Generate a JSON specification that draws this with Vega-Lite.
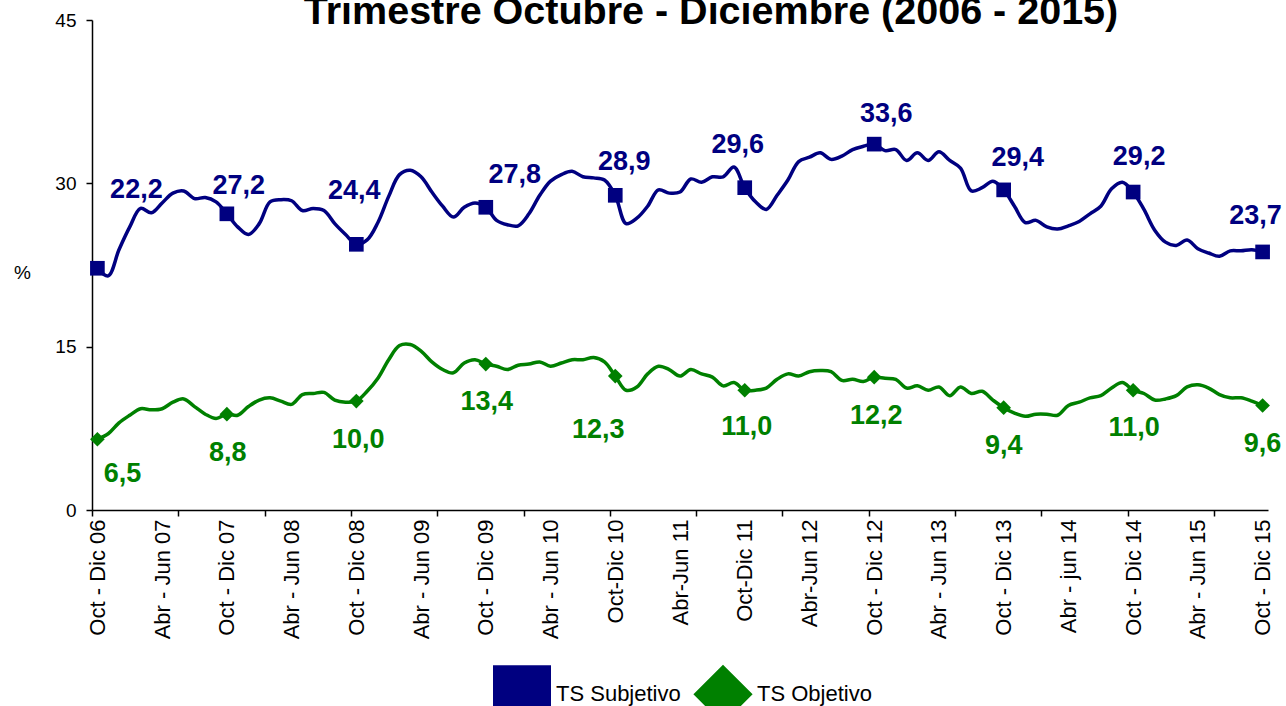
{
  "$schema": "https://vega.github.io/schema/vega-lite/v6.json",
  "width": 1176,
  "height": 490,
  "autosize": {"type": "none"},
  "padding": {"left": 92, "top": 20, "right": 18, "bottom": 196},
  "background": "white",
  "title": {"text": "Trimestre Octubre - Diciembre (2006 - 2015)", "font": "Liberation Sans", "fontSize": 39.5, "fontWeight": "bold", "color": "black", "anchor": "middle", "frame": "group", "dx": 31, "dy": 36, "offset": -16, "baseline": "alphabetic"},
  "config": {
    "view": {"stroke": null},
    "axis": {"grid": false, "domainColor": "black", "tickColor": "black", "labelColor": "black", "labelFont": "Liberation Sans", "titleFont": "Liberation Sans", "titleColor": "black", "domainWidth": 1.5, "tickWidth": 1.5}
  },
  "data": {"values": [
    {"t":0,"TS Subjetivo":22.2,"TS Objetivo":6.5},
    {"t":1,"TS Subjetivo":21.5,"TS Objetivo":7.0},
    {"t":2,"TS Subjetivo":23.9,"TS Objetivo":8.0},
    {"t":3,"TS Subjetivo":26.0,"TS Objetivo":8.7},
    {"t":4,"TS Subjetivo":27.7,"TS Objetivo":9.3},
    {"t":5,"TS Subjetivo":27.3,"TS Objetivo":9.2},
    {"t":6,"TS Subjetivo":28.2,"TS Objetivo":9.3},
    {"t":7,"TS Subjetivo":29.1,"TS Objetivo":9.9},
    {"t":8,"TS Subjetivo":29.3,"TS Objetivo":10.2},
    {"t":9,"TS Subjetivo":28.6,"TS Objetivo":9.5},
    {"t":10,"TS Subjetivo":28.7,"TS Objetivo":8.8},
    {"t":11,"TS Subjetivo":28.3,"TS Objetivo":8.4},
    {"t":12,"TS Subjetivo":27.2,"TS Objetivo":8.8},
    {"t":13,"TS Subjetivo":26.0,"TS Objetivo":8.7},
    {"t":14,"TS Subjetivo":25.3,"TS Objetivo":9.5},
    {"t":15,"TS Subjetivo":26.3,"TS Objetivo":10.1},
    {"t":16,"TS Subjetivo":28.3,"TS Objetivo":10.3},
    {"t":17,"TS Subjetivo":28.5,"TS Objetivo":10.0},
    {"t":18,"TS Subjetivo":28.4,"TS Objetivo":9.7},
    {"t":19,"TS Subjetivo":27.5,"TS Objetivo":10.6},
    {"t":20,"TS Subjetivo":27.7,"TS Objetivo":10.7},
    {"t":21,"TS Subjetivo":27.5,"TS Objetivo":10.8},
    {"t":22,"TS Subjetivo":26.3,"TS Objetivo":10.1},
    {"t":23,"TS Subjetivo":25.3,"TS Objetivo":9.9},
    {"t":24,"TS Subjetivo":24.4,"TS Objetivo":10.0},
    {"t":25,"TS Subjetivo":24.8,"TS Objetivo":10.9},
    {"t":26,"TS Subjetivo":26.4,"TS Objetivo":12.1},
    {"t":27,"TS Subjetivo":28.8,"TS Objetivo":13.8},
    {"t":28,"TS Subjetivo":30.8,"TS Objetivo":15.1},
    {"t":29,"TS Subjetivo":31.2,"TS Objetivo":15.2},
    {"t":30,"TS Subjetivo":30.6,"TS Objetivo":14.6},
    {"t":31,"TS Subjetivo":29.2,"TS Objetivo":13.6},
    {"t":32,"TS Subjetivo":27.9,"TS Objetivo":12.9},
    {"t":33,"TS Subjetivo":26.9,"TS Objetivo":12.6},
    {"t":34,"TS Subjetivo":27.8,"TS Objetivo":13.5},
    {"t":35,"TS Subjetivo":28.2,"TS Objetivo":13.8},
    {"t":36,"TS Subjetivo":27.8,"TS Objetivo":13.4},
    {"t":37,"TS Subjetivo":26.6,"TS Objetivo":13.2},
    {"t":38,"TS Subjetivo":26.2,"TS Objetivo":12.9},
    {"t":39,"TS Subjetivo":26.1,"TS Objetivo":13.3},
    {"t":40,"TS Subjetivo":27.2,"TS Objetivo":13.4},
    {"t":41,"TS Subjetivo":28.9,"TS Objetivo":13.6},
    {"t":42,"TS Subjetivo":30.2,"TS Objetivo":13.2},
    {"t":43,"TS Subjetivo":30.8,"TS Objetivo":13.5},
    {"t":44,"TS Subjetivo":31.1,"TS Objetivo":13.8},
    {"t":45,"TS Subjetivo":30.6,"TS Objetivo":13.8},
    {"t":46,"TS Subjetivo":30.5,"TS Objetivo":14.0},
    {"t":47,"TS Subjetivo":30.3,"TS Objetivo":13.6},
    {"t":48,"TS Subjetivo":28.9,"TS Objetivo":12.3},
    {"t":49,"TS Subjetivo":26.3,"TS Objetivo":11.0},
    {"t":50,"TS Subjetivo":26.8,"TS Objetivo":11.3},
    {"t":51,"TS Subjetivo":27.9,"TS Objetivo":12.5},
    {"t":52,"TS Subjetivo":29.4,"TS Objetivo":13.2},
    {"t":53,"TS Subjetivo":29.1,"TS Objetivo":12.9},
    {"t":54,"TS Subjetivo":29.2,"TS Objetivo":12.3},
    {"t":55,"TS Subjetivo":30.4,"TS Objetivo":12.9},
    {"t":56,"TS Subjetivo":30.1,"TS Objetivo":12.5},
    {"t":57,"TS Subjetivo":30.6,"TS Objetivo":12.2},
    {"t":58,"TS Subjetivo":30.6,"TS Objetivo":11.4},
    {"t":59,"TS Subjetivo":31.5,"TS Objetivo":11.7},
    {"t":60,"TS Subjetivo":29.6,"TS Objetivo":11.0},
    {"t":61,"TS Subjetivo":28.3,"TS Objetivo":11.0},
    {"t":62,"TS Subjetivo":27.6,"TS Objetivo":11.2},
    {"t":63,"TS Subjetivo":28.9,"TS Objetivo":12.0},
    {"t":64,"TS Subjetivo":30.3,"TS Objetivo":12.5},
    {"t":65,"TS Subjetivo":32.0,"TS Objetivo":12.3},
    {"t":66,"TS Subjetivo":32.4,"TS Objetivo":12.7},
    {"t":67,"TS Subjetivo":32.8,"TS Objetivo":12.8},
    {"t":68,"TS Subjetivo":32.2,"TS Objetivo":12.7},
    {"t":69,"TS Subjetivo":32.5,"TS Objetivo":11.9},
    {"t":70,"TS Subjetivo":33.1,"TS Objetivo":12.0},
    {"t":71,"TS Subjetivo":33.4,"TS Objetivo":11.8},
    {"t":72,"TS Subjetivo":33.6,"TS Objetivo":12.2},
    {"t":73,"TS Subjetivo":33.0,"TS Objetivo":12.1},
    {"t":74,"TS Subjetivo":33.1,"TS Objetivo":12.0},
    {"t":75,"TS Subjetivo":32.1,"TS Objetivo":11.2},
    {"t":76,"TS Subjetivo":32.8,"TS Objetivo":11.4},
    {"t":77,"TS Subjetivo":32.1,"TS Objetivo":11.0},
    {"t":78,"TS Subjetivo":32.9,"TS Objetivo":11.3},
    {"t":79,"TS Subjetivo":32.1,"TS Objetivo":10.5},
    {"t":80,"TS Subjetivo":31.4,"TS Objetivo":11.3},
    {"t":81,"TS Subjetivo":29.3,"TS Objetivo":10.7},
    {"t":82,"TS Subjetivo":29.6,"TS Objetivo":10.9},
    {"t":83,"TS Subjetivo":30.2,"TS Objetivo":10.1},
    {"t":84,"TS Subjetivo":29.4,"TS Objetivo":9.4},
    {"t":85,"TS Subjetivo":27.9,"TS Objetivo":8.9},
    {"t":86,"TS Subjetivo":26.4,"TS Objetivo":8.6},
    {"t":87,"TS Subjetivo":26.6,"TS Objetivo":8.8},
    {"t":88,"TS Subjetivo":26.0,"TS Objetivo":8.8},
    {"t":89,"TS Subjetivo":25.8,"TS Objetivo":8.7},
    {"t":90,"TS Subjetivo":26.1,"TS Objetivo":9.6},
    {"t":91,"TS Subjetivo":26.5,"TS Objetivo":9.9},
    {"t":92,"TS Subjetivo":27.2,"TS Objetivo":10.3},
    {"t":93,"TS Subjetivo":27.9,"TS Objetivo":10.5},
    {"t":94,"TS Subjetivo":29.5,"TS Objetivo":11.2},
    {"t":95,"TS Subjetivo":30.1,"TS Objetivo":11.7},
    {"t":96,"TS Subjetivo":29.2,"TS Objetivo":11.0},
    {"t":97,"TS Subjetivo":27.6,"TS Objetivo":10.7},
    {"t":98,"TS Subjetivo":25.7,"TS Objetivo":10.1},
    {"t":99,"TS Subjetivo":24.6,"TS Objetivo":10.2},
    {"t":100,"TS Subjetivo":24.3,"TS Objetivo":10.5},
    {"t":101,"TS Subjetivo":24.8,"TS Objetivo":11.3},
    {"t":102,"TS Subjetivo":24.0,"TS Objetivo":11.5},
    {"t":103,"TS Subjetivo":23.6,"TS Objetivo":11.2},
    {"t":104,"TS Subjetivo":23.3,"TS Objetivo":10.6},
    {"t":105,"TS Subjetivo":23.8,"TS Objetivo":10.3},
    {"t":106,"TS Subjetivo":23.8,"TS Objetivo":10.3},
    {"t":107,"TS Subjetivo":23.9,"TS Objetivo":10.0},
    {"t":108,"TS Subjetivo":23.7,"TS Objetivo":9.6}
  ]},
  "transform": [
    {"fold": ["TS Subjetivo", "TS Objetivo"], "as": ["serie", "valor"]},
    {"calculate": "replace(format(datum.valor, '.1f'), '.', ',')", "as": "lab"}
  ],
  "resolve": {"axis": {"x": "independent"}},
  "layer": [
    {
      "mark": {"type": "line", "interpolate": "catmull-rom", "strokeWidth": 3.5},
      "encoding": {
        "x": {"field": "t", "type": "quantitative", "scale": {"domain": [-0.5, 108.5], "nice": false, "zero": false},
          "axis": {"orient": "bottom", "values": [0,6,12,18,24,30,36,42,48,54,60,66,72,78,84,90,96,102,108],
            "labelExpr": "['Oct - Dic 06','Abr - Jun 07','Oct - Dic 07','Abr - Jun 08','Oct - Dic 08','Abr - Jun 09','Oct - Dic 09','Abr - Jun 10','Oct-Dic 10','Abr-Jun 11','Oct-Dic 11','Abr-Jun 12','Oct - Dic 12','Abr - Jun 13','Oct - Dic 13','Abr - jun 14','Oct - Dic 14','Abr - Jun 15','Oct - Dic 15'][round(datum.value / 6)]",
            "labelAngle": -90, "labelFontSize": 22, "labelPadding": 9, "ticks": false, "tickSize": 0, "title": null, "labelOverlap": false, "labelBound": false, "labelFlush": false}},
        "y": {"field": "valor", "type": "quantitative", "scale": {"domain": [0, 45], "nice": false, "zero": true},
          "axis": {"values": [0, 15, 30, 45], "tickSize": 6, "labelFontSize": 19, "labelPadding": 10, "title": "%", "titleAngle": 0, "titleFontSize": 19, "titleFontWeight": "normal", "titleX": -70, "titleY": 252, "titleAlign": "center", "titleBaseline": "middle", "labelFlush": false}},
        "color": {"field": "serie", "type": "nominal", "scale": {"domain": ["TS Subjetivo", "TS Objetivo"], "range": ["#000080", "#008000"]},
          "legend": {"orient": "none", "legendX": 401, "legendY": 645, "direction": "horizontal", "title": null,
            "symbolSize": 3025, "symbolStrokeWidth": 3, "symbolOpacity": 1, "labelFont": "Liberation Sans", "labelFontSize": 22, "labelColor": "black", "labelOffset": 5, "columnPadding": 8,
            "encoding": {"symbols": {
              "shape": {"value": {"expr": "datum.value === 'TS Subjetivo' ? 'M-1,0H1M-0.23,-0.23H0.23V0.23H-0.23Z' : 'M-1,0H1M0,-0.28L0.28,0L0,0.28L-0.28,0Z'"}},
              "size": {"value": 3025},
              "fill": {"value": {"expr": "datum.value === 'TS Subjetivo' ? '#000080' : '#008000'"}},
              "stroke": {"value": {"expr": "datum.value === 'TS Subjetivo' ? '#000080' : '#008000'"}},
              "strokeWidth": {"value": 3},
              "opacity": {"value": 1}
            }}}}
      }
    },
    {
      "transform": [{"filter": "datum.t % 12 == 0"}],
      "mark": {"type": "point", "filled": true, "opacity": 1, "size": 215},
      "encoding": {
        "x": {"field": "t", "type": "quantitative",
          "axis": {"orient": "bottom", "values": [-0.5,7.5,15.5,23.5,31.5,39.5,47.5,55.5,63.5,71.5,79.5,87.5,95.5,103.5], "labels": false, "domain": false, "tickSize": 6, "title": null}},
        "y": {"field": "valor", "type": "quantitative"},
        "color": {"field": "serie", "type": "nominal",
          "legend": {"orient": "none", "legendX": 401, "legendY": 645, "direction": "horizontal", "title": null,
            "symbolSize": 3025, "symbolStrokeWidth": 3, "symbolOpacity": 1, "labelFont": "Liberation Sans", "labelFontSize": 22, "labelColor": "black", "labelOffset": 5, "columnPadding": 8,
            "encoding": {"symbols": {
              "shape": {"value": {"expr": "datum.value === 'TS Subjetivo' ? 'M-1,0H1M-0.23,-0.23H0.23V0.23H-0.23Z' : 'M-1,0H1M0,-0.28L0.28,0L0,0.28L-0.28,0Z'"}},
              "size": {"value": 3025},
              "fill": {"value": {"expr": "datum.value === 'TS Subjetivo' ? '#000080' : '#008000'"}},
              "stroke": {"value": {"expr": "datum.value === 'TS Subjetivo' ? '#000080' : '#008000'"}},
              "strokeWidth": {"value": 3},
              "opacity": {"value": 1}
            }}}},
        "shape": {"field": "serie", "type": "nominal", "scale": {"domain": ["TS Subjetivo", "TS Objetivo"], "range": ["square", "diamond"]},
          "legend": {"orient": "none", "legendX": 401, "legendY": 645, "direction": "horizontal", "title": null,
            "symbolSize": 3025, "symbolStrokeWidth": 3, "symbolOpacity": 1, "labelFont": "Liberation Sans", "labelFontSize": 22, "labelColor": "black", "labelOffset": 5, "columnPadding": 8,
            "encoding": {"symbols": {
              "shape": {"value": {"expr": "datum.value === 'TS Subjetivo' ? 'M-1,0H1M-0.23,-0.23H0.23V0.23H-0.23Z' : 'M-1,0H1M0,-0.28L0.28,0L0,0.28L-0.28,0Z'"}},
              "size": {"value": 3025},
              "fill": {"value": {"expr": "datum.value === 'TS Subjetivo' ? '#000080' : '#008000'"}},
              "stroke": {"value": {"expr": "datum.value === 'TS Subjetivo' ? '#000080' : '#008000'"}},
              "strokeWidth": {"value": 3},
              "opacity": {"value": 1}
            }}}}
      }
    },
    {
      "transform": [{"filter": "datum.serie == 'TS Subjetivo' && datum.t % 12 == 0"}],
      "mark": {"type": "text", "font": "Liberation Sans", "fontSize": 27, "fontWeight": "bold", "color": "#000080", "align": "center", "baseline": "middle",
        "dx": {"expr": "[39,12,-2,29,9,-7,12,14,6,-7][round(datum.t / 12)]"},
        "dy": {"expr": "[-78,-28,-53,-32,-33,-43,-30,-32,-35,-36][round(datum.t / 12)]"}},
      "encoding": {
        "x": {"field": "t", "type": "quantitative", "axis": null},
        "y": {"field": "valor", "type": "quantitative"},
        "text": {"field": "lab"}
      }
    },
    {
      "transform": [{"filter": "datum.serie == 'TS Objetivo' && datum.t % 12 == 0"}],
      "mark": {"type": "text", "font": "Liberation Sans", "fontSize": 27, "fontWeight": "bold", "color": "#008000", "align": "center", "baseline": "middle",
        "dx": {"expr": "[25,1,2,1,-17,2,2,0,1,0][round(datum.t / 12)]"},
        "dy": {"expr": "[35,39,39,38,54,37,39,38,38,39][round(datum.t / 12)]"}},
      "encoding": {
        "x": {"field": "t", "type": "quantitative", "axis": null},
        "y": {"field": "valor", "type": "quantitative"},
        "text": {"field": "lab"}
      }
    }
  ]
}
